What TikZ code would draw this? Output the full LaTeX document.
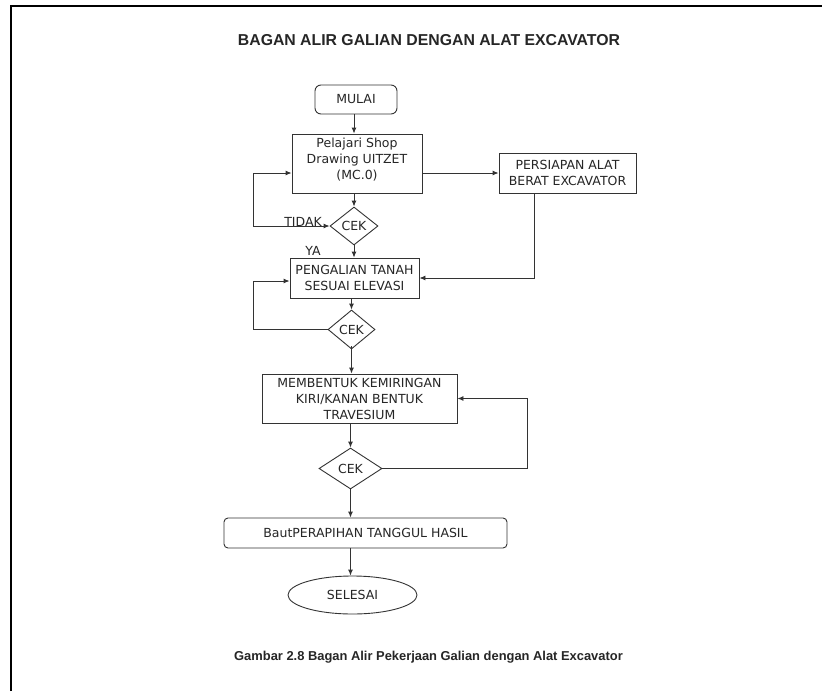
\documentclass[tikz,border=0pt]{standalone}
\usepackage{fontspec}
\setmainfont{DejaVu Sans}
\newfontfamily\arialfont{Liberation Sans}
\usetikzlibrary{shapes.geometric,arrows.meta,calc}
\begin{document}
\begin{tikzpicture}[x=1pt,y=-1pt,
  every node/.style={font=\fontsize{12.5}{16}\selectfont, text=black!85, align=center, inner sep=0pt},
  shp/.style={draw=black!80, line width=0.9pt},
  rbox/.style={shp, rectangle},
  dia/.style={shp, diamond},
  arr/.style={draw=black!80, line width=0.9pt, -{Latex[length=6pt,width=5pt]}},
  ln/.style={draw=black!80, line width=0.9pt},
  lbl/.style={font=\fontsize{12.5}{16}\selectfont}]
\useasboundingbox (0,0) rectangle (822,691);
\fill[white] (0,0) rectangle (822,691);
% frame
\draw[line width=2pt, black] (11,691) -- (11,6) -- (822,6);

% title and caption
\node (title) at (429,40) {\arialfont\bfseries\fontsize{15.8}{18}\selectfont BAGAN ALIR GALIAN DENGAN ALAT EXCAVATOR};
\node (caption) at (428.5,657) {\arialfont\bfseries\fontsize{12.9}{15}\selectfont Gambar 2.8 Bagan Alir Pekerjaan Galian dengan Alat Excavator};

% nodes
\node[rbox, rounded corners=6pt, minimum width=82pt, minimum height=29pt] (mulai) at (356,99.5) {MULAI};
\node[rbox, minimum width=130pt, minimum height=59pt] (pel) at (357,163.5) {Pelajari Shop\\Drawing UITZET\\(MC.0)\vphantom{p}\\[-6pt]};
\node[rbox, minimum width=137pt, minimum height=40pt] (pers) at (567.5,173) {PERSIAPAN ALAT\\BERAT EXCAVATOR};
\node[dia, minimum width=48pt, minimum height=38pt] (cek1) at (354,226) {CEK};
\node[rbox, minimum width=129pt, minimum height=40pt] (peng) at (354.5,278) {PENGALIAN TANAH\\SESUAI ELEVASI};
\node[dia, minimum width=47pt, minimum height=39pt] (cek2) at (351.5,329.5) {CEK};
\node[rbox, minimum width=195pt, minimum height=49pt] (mem) at (359.5,398.5) {MEMBENTUK KEMIRINGAN\\KIRI/KANAN BENTUK\\TRAVESIUM};
\node[dia, minimum width=63pt, minimum height=41pt] (cek3) at (350.5,468.5) {CEK};
\node[rbox, rounded corners=4pt, minimum width=283pt, minimum height=30pt] (baut) at (365.5,533) {BautPERAPIHAN TANGGUL HASIL};
\node[shp, ellipse, minimum width=129pt, minimum height=38pt] (sel) at (352.5,595) {SELESAI};

% labels
\node[lbl] (tidak) at (303,222) {TIDAK};
\node[lbl] (ya) at (313,251) {YA};

% connectors
\draw[arr] (mulai.south -| cek1.north) -- (cek1.north |- pel.north);
\draw[arr] (cek1.north |- pel.south) -- (cek1.north);
\draw[arr] (cek1.south) -- (cek1.south |- peng.north);
\draw[{Latex[length=6pt,width=5pt]}-{Latex[length=6pt,width=5pt]}, ln] (cek1.west) -- (253,226) |- (pel.west |- pers.west);
\draw[arr] (pel.east |- pers.west) -- (pers.west);
\draw[arr] ([xshift=-33.5pt]pers.south) |- (peng.east);
\draw[arr] (cek2.north |- peng.south) -- (cek2.north);
\draw[arr] (cek2.west) -- (253,329.5) |- ([yshift=-3pt]peng.west);
\draw[arr] ([yshift=3pt]cek2.south) -- (cek2.south |- mem.north);
\draw[arr] (cek3.north |- mem.south) -- (cek3.north);
\draw[arr] (cek3.east) -- (527,468.5) |- (mem.east);
\draw[arr] (cek3.south) -- (cek3.south |- baut.north);
\draw[arr] (cek3.south |- baut.south) -- (cek3.south |- sel.north);
\end{tikzpicture}
\end{document}
